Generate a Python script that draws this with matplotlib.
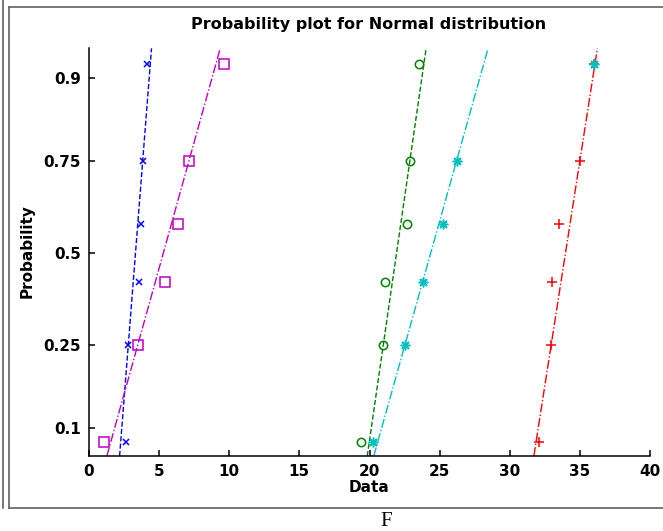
"""
Normal probability plot for five samples, drawn the way MATLAB's normplot lays it out.
"""
from statistics import NormalDist

import numpy as np
import matplotlib
matplotlib.use("Agg")
import matplotlib.pyplot as plt
from matplotlib.lines import Line2D

# sample values (6 points per series)
blue_x = [2.64, 2.80, 3.58, 3.71, 3.83, 4.11]
green_o = [19.37, 20.98, 21.10, 22.69, 22.88, 23.55]
red_plus = [32.05, 32.95, 33.00, 33.52, 35.00, 36.00]
cyan_star = [20.27, 22.52, 23.82, 25.21, 26.21, 36.00]
magenta_sq = [1.07, 3.47, 5.42, 6.37, 7.13, 9.62]

prob_ticks = [0.1, 0.25, 0.5, 0.75, 0.9]
prob_labels = ["0.1", "0.25", "0.5", "0.75", "0.9"]
x_ticks = [0, 5, 10, 15, 20, 25, 30, 35, 40]

# MATLAB-style asterisk: 8 thin spokes
asterisk = (8, 2, 0)
series = [
    (blue_x, "#0000ff", "x", "--", 4.5),
    (green_o, "#008000", "o", "--", 6),
    (red_plus, "#ff0000", "+", "-.", 7),
    (cyan_star, "#00bfbf", asterisk, "-.", 7),
    (magenta_sq, "#bf00bf", "s", "-.", 6.5),
]

nd = NormalDist()
W, H = 663, 531
plt.rcParams["font.family"] = ["DejaVu Sans"]
plt.rcParams["font.weight"] = "bold"

fig = plt.figure(figsize=(W / 100, H / 100), dpi=100)
ax = fig.add_axes([89 / W, 1 - 456 / H, (650 - 89) / W, (456 - 48.3) / H])

ylo, yhi = -1.484, 1.496
for vals, col, mk, ls, ms in series:
    x = np.sort(np.asarray(vals))
    n = len(x)
    z = np.array([nd.inv_cdf((i - 0.5) / n) for i in range(1, n + 1)])
    # reference line through the 1st and 3rd quartile points
    q1, q3 = x[1], x[n - 2]
    z1, z3 = nd.inv_cdf(0.25), nd.inv_cdf(0.75)
    slope = (q3 - q1) / (z3 - z1)
    zz = np.array([ylo, yhi])
    ax.plot(q1 + slope * (zz - z1), zz, color=col, ls=ls, lw=1.0)
    hollow = mk in ("o", "s")
    ax.plot(x, z, ls="none", marker=mk, color=col, ms=ms, mew=1.1,
            mfc="none" if hollow else col)

ax.set_xlim(0, 40)
ax.set_ylim(ylo, yhi)
ax.set_xticks(x_ticks)
ax.set_xticklabels([str(t) for t in x_ticks])
ax.set_yticks([nd.inv_cdf(p) for p in prob_ticks])
ax.set_yticklabels(prob_labels)
ax.spines["top"].set_visible(False)
ax.spines["right"].set_visible(False)
for s in ("left", "bottom"):
    ax.spines[s].set_linewidth(1.1)
ax.tick_params(direction="in", length=4, width=1.1, labelsize=11, pad=6)
for lab in ax.get_xticklabels() + ax.get_yticklabels():
    lab.set_fontweight("bold")

fig.text(368.5 / W, 1 - 24 / H, "Probability plot for Normal distribution",
         ha="center", va="center", fontsize=11.5, fontweight="bold")
fig.text(368.5 / W, 1 - 488 / H, "Data", ha="center", va="center",
         fontsize=11, fontweight="bold")
fig.text(27.5 / W, 1 - 251 / H, "Probability", ha="center", va="center",
         rotation=90, fontsize=11, fontweight="bold")
fig.text(386 / W, 1 - 521 / H, "F", ha="center", va="center",
         fontsize=15, family="Liberation Serif", fontweight="normal")

# outer frame around the figure
fc = "#606060"
def px_line(xs, ys):
    fig.add_artist(Line2D([v / W for v in xs], [1 - v / H for v in ys],
                          transform=fig.transFigure, color=fc, lw=1.2))
px_line([3.4, 3.4], [0, 508])
px_line([8.5, 8.5], [7.3, 508])
px_line([8.5, 663], [7.3, 7.3])
px_line([8.5, 663], [508, 508])

fig.savefig("out.png", dpi=100)
